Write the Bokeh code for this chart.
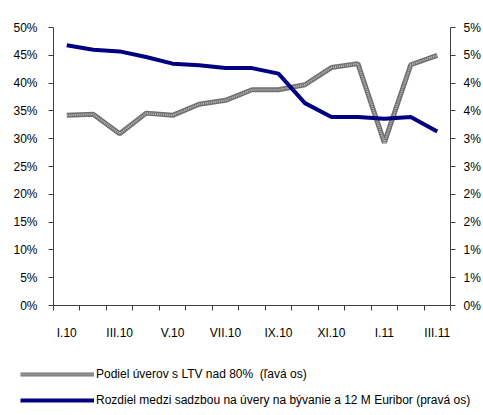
from bokeh.plotting import figure
from bokeh.models import Range1d, LinearAxis, FixedTicker, Legend, LegendItem
from bokeh.layouts import column, row
from bokeh.embed import file_html
from bokeh.resources import INLINE

months = ["I.10", "II.10", "III.10", "IV.10", "V.10", "VI.10", "VII.10", "VIII.10",
          "IX.10", "X.10", "XI.10", "XII.10", "I.11", "II.11", "III.11"]
ltv_share = [34.2, 34.4, 30.9, 34.6, 34.2, 36.2, 36.9, 38.8, 38.8, 39.7, 42.8, 43.5, 29.3, 43.3, 45.0]
rate_spread = [4.68, 4.60, 4.57, 4.47, 4.35, 4.32, 4.27, 4.27, 4.17, 3.64, 3.39, 3.39, 3.36, 3.39, 3.13]
left_ticks = [0, 5, 10, 15, 20, 25, 30, 35, 40, 45, 50]
left_tick_labels = ["0%", "5%", "10%", "15%", "20%", "25%", "30%", "35%", "40%", "45%", "50%"]
right_ticks = [0, 0.5, 1, 1.5, 2, 2.5, 3, 3.5, 4, 4.5, 5]
right_tick_labels = ["0%", "1%", "1%", "2%", "2%", "3%", "3%", "4%", "4%", "5%", "5%"]
label_ltv = "Podiel úverov s LTV nad 80%  (ľavá os)"
label_spread = "Rozdiel medzi sadzbou na úvery na bývanie a 12 M Euribor (pravá os)"

FONT = "Liberation Sans"
AXIS_COLOR = "#404040"
GREY_BASE = "#707070"
GREY_DOTS = "#bdbdbd"
NAVY = "#000080"

n = len(months)
xs = [i + 0.5 for i in range(n)]

p = figure(width=483, height=350, x_range=Range1d(0, n), y_range=Range1d(0, 50),
           output_backend="svg", toolbar_location=None,
           min_border_left=53, min_border_right=29, min_border_top=27, min_border_bottom=45)
p.outline_line_color = None
p.xgrid.visible = False
p.ygrid.visible = False
p.extra_y_ranges = {"right": Range1d(0, 5)}

# x axis
xa = p.xaxis[0]
shown = [i for i in range(0, n, 2)]
xa.ticker = FixedTicker(ticks=[xs[i] for i in shown], minor_ticks=list(range(n + 1)))
xa.major_label_overrides = {xs[i]: months[i] for i in shown}
xa.major_tick_line_color = None
xa.major_tick_out = 0
xa.major_tick_in = 0
xa.minor_tick_out = 5
xa.minor_tick_in = 0
xa.minor_tick_line_color = AXIS_COLOR
xa.axis_line_color = AXIS_COLOR
xa.major_label_standoff = 15
xa.major_label_text_font = FONT
xa.major_label_text_font_size = "12px"
xa.major_label_text_color = "black"

# left axis
ya = p.yaxis[0]
ya.ticker = FixedTicker(ticks=left_ticks)
ya.major_label_overrides = {t: l for t, l in zip(left_ticks, left_tick_labels)}
ya.minor_tick_line_color = None
ya.major_tick_out = 5
ya.major_tick_in = 0
ya.major_tick_line_color = AXIS_COLOR
ya.axis_line_color = AXIS_COLOR
ya.major_label_standoff = 11
ya.major_label_text_font = FONT
ya.major_label_text_font_size = "12px"
ya.major_label_text_color = "black"

# right axis
ra = LinearAxis(y_range_name="right")
ra.ticker = FixedTicker(ticks=right_ticks)
ra.major_label_overrides = {t: l for t, l in zip(right_ticks, right_tick_labels)}
ra.minor_tick_line_color = None
ra.major_tick_out = 5
ra.major_tick_in = 0
ra.major_tick_line_color = AXIS_COLOR
ra.axis_line_color = AXIS_COLOR
ra.major_label_standoff = 8
ra.major_label_text_font = FONT
ra.major_label_text_font_size = "12px"
ra.major_label_text_color = "black"
p.add_layout(ra, "right")

# series
p.line(xs, ltv_share, line_width=5, line_color=GREY_BASE)
p.line(xs, ltv_share, line_width=2, line_color=GREY_DOTS, line_dash="1 1")
p.line(xs, rate_spread, y_range_name="right", line_width=4, line_color=NAVY)

# legend panel (its ranges hide the copies of the series; only the legend shows)
p2 = figure(width=483, height=65, x_range=Range1d(100, 101), y_range=Range1d(100, 101),
            x_axis_type=None, y_axis_type=None, output_backend="svg", toolbar_location=None,
            min_border_left=0, min_border_right=0, min_border_top=0, min_border_bottom=0)
p2.outline_line_color = None
p2.xgrid.visible = False
p2.ygrid.visible = False
lg1 = p2.line(xs, ltv_share, line_width=4, line_color=GREY_BASE)
lg2 = p2.line(xs, ltv_share, line_width=2, line_color=GREY_DOTS, line_dash="1 1")
lb1 = p2.line(xs, rate_spread, line_width=4, line_color=NAVY)

legend = Legend(items=[LegendItem(label=label_ltv, renderers=[lg1, lg2]),
                       LegendItem(label=label_spread, renderers=[lb1])],
                location=(20, 8), orientation="vertical",
                border_line_color=None, background_fill_alpha=0,
                padding=0, margin=0, spacing=12,
                glyph_width=74, glyph_height=14, label_height=14, label_standoff=2,
                label_text_font=FONT, label_text_font_size="12px", label_text_color="black")
p2.add_layout(legend, "center")

layout = column(p, row(p2), spacing=0)
open("out.html", "w").write(file_html(layout, INLINE))
